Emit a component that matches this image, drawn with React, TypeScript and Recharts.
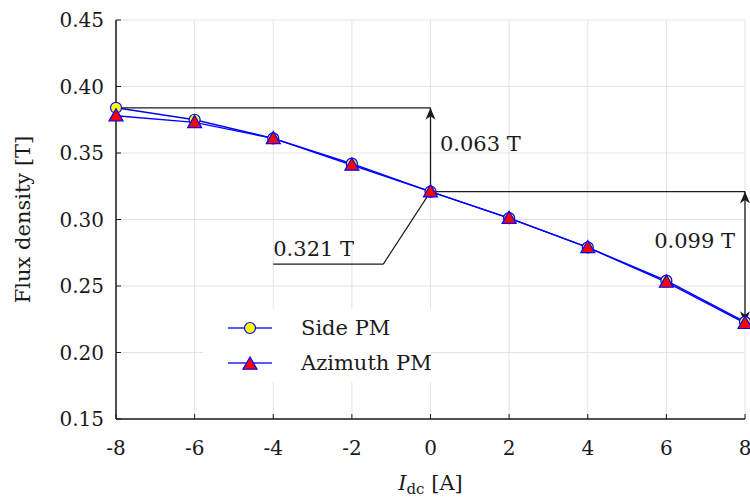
import React from "react";
import {
  LineChart,
  Line,
  XAxis,
  YAxis,
  CartesianGrid,
  ReferenceLine,
  ReferenceDot,
} from "recharts";

const current = [-8, -6, -4, -2, 0, 2, 4, 6, 8];
const sidePM = [0.384, 0.375, 0.361, 0.342, 0.321, 0.301, 0.279, 0.254, 0.223];
const azimuthPM = [0.378, 0.373, 0.361, 0.341, 0.321, 0.301, 0.279, 0.253, 0.222];
const xTicks = [-8, -6, -4, -2, 0, 2, 4, 6, 8];
const yTicks = [0.15, 0.2, 0.25, 0.3, 0.35, 0.4, 0.45];

const data = current.map((x, i) => ({ x, side: sidePM[i], azimuth: azimuthPM[i] }));

const FONT = "DejaVu Serif, serif";
const FS = 20;
const FS_NOTE = 21;
const BLUE = "#0000ff";
const INK = "#1a1a1a";

function XTick(props: any) {
  const { x, y, payload } = props;
  return (
    <g>
      <line x1={x} y1={y} x2={x} y2={y - 5} stroke={INK} strokeWidth={1} />
      <text x={x} y={y + 36} textAnchor="middle" fontFamily={FONT} fontSize={FS} fill={INK}>
        {payload.value}
      </text>
    </g>
  );
}

function YTick(props: any) {
  const { x, y, payload } = props;
  return (
    <g>
      <line x1={x} y1={y} x2={x + 5} y2={y} stroke={INK} strokeWidth={1} />
      <text x={x - 12} y={y} dy="0.35em" textAnchor="end" fontFamily={FONT} fontSize={FS} fill={INK}>
        {Number(payload.value).toFixed(2)}
      </text>
    </g>
  );
}

function CircleDot(props: any) {
  const { cx, cy } = props;
  return <circle cx={cx} cy={cy} r={5.5} fill="#ffff00" stroke={BLUE} strokeWidth={1.2} />;
}

function TriangleDot(props: any) {
  const { cx, cy } = props;
  const s = 7;
  return (
    <polygon
      points={`${cx},${cy - s} ${cx - s},${cy + s * 0.75} ${cx + s},${cy + s * 0.75}`}
      fill="#ff0000"
      stroke={BLUE}
      strokeWidth={1.2}
    />
  );
}

function head(x1: number, y1: number, x2: number, y2: number) {
  const a = Math.atan2(y2 - y1, x2 - x1);
  const L = 12;
  const W = 5;
  const bx = x2 - L * Math.cos(a);
  const by = y2 - L * Math.sin(a);
  const px = -Math.sin(a) * W;
  const py = Math.cos(a) * W;
  const mx = x2 - L * 0.7 * Math.cos(a);
  const my = y2 - L * 0.7 * Math.sin(a);
  return `M${x2},${y2} L${bx + px},${by + py} L${mx},${my} L${bx - px},${by - py} Z`;
}

function arrowShape(both: boolean) {
  return (props: any) => {
    const { x1, y1, x2, y2 } = props;
    return (
      <g>
        <line x1={x1} y1={y1} x2={x2} y2={y2} stroke={INK} strokeWidth={1.3} />
        <path d={head(x1, y1, x2, y2)} fill={INK} />
        {both && <path d={head(x2, y2, x1, y1)} fill={INK} />}
      </g>
    );
  };
}

function textShape(label: string, anchor: "start" | "middle" | "end", dy: string) {
  return (props: any) => (
    <text x={props.cx} y={props.cy} dy={dy} textAnchor={anchor} fontFamily={FONT} fontSize={FS_NOTE} fill={INK}>
      {label}
    </text>
  );
}

function LegendBox() {
  const row = (label: string, marker: React.ReactNode) => (
    <div style={{ display: "flex", alignItems: "center", height: 35, whiteSpace: "nowrap" }}>
      <svg width={72} height={20} style={{ display: "block", flexShrink: 0 }}>
        <line x1={25} y1={10} x2={69} y2={10} stroke="#5a5aff" strokeWidth={1.8} />
        {marker}
      </svg>
      <span
        style={{
          fontFamily: FONT,
          fontSize: FS_NOTE,
          color: INK,
          marginLeft: 26,
          lineHeight: "20px",
          whiteSpace: "nowrap",
        }}
      >
        {label}
      </span>
    </div>
  );
  return (
    <div
      style={{
        position: "absolute",
        left: 203,
        top: 309,
        width: 228,
        height: 72,
        background: "#fff",
        paddingTop: 1,
        overflow: "visible",
      }}
    >
      {row("Side PM", <CircleDot cx={47} cy={10} />)}
      {row("Azimuth PM", <TriangleDot cx={47} cy={11} />)}
    </div>
  );
}

export default function App() {
  return (
    <div style={{ position: "absolute", left: 0, top: 0, width: 750, height: 497, background: "#fff" }}>
      <LineChart width={750} height={497} data={data} margin={{ top: 20, right: 5, bottom: 28, left: 0 }}>
        <CartesianGrid stroke="#e3e3e3" strokeWidth={1} />
        <XAxis
          dataKey="x"
          type="number"
          domain={[-8, 8]}
          ticks={xTicks}
          tick={<XTick />}
          tickSize={0}
          tickMargin={0}
          tickLine={false}
          height={50}
          axisLine={{ stroke: INK, strokeWidth: 1.5 }}
          label={(p: any) => {
            const vb = p.viewBox;
            const cx = vb.x + vb.width / 2;
            return (
              <text x={cx} y={490} textAnchor="middle" fontFamily={FONT} fontSize={FS_NOTE} fill={INK}>
                <tspan fontStyle="italic">I</tspan>
                <tspan fontSize={15} dy={4}>dc</tspan>
                <tspan dy={-4}> [A]</tspan>
              </text>
            );
          }}
        />
        <YAxis
          type="number"
          domain={[0.15, 0.45]}
          ticks={yTicks}
          tick={<YTick />}
          tickSize={0}
          tickMargin={0}
          tickLine={false}
          width={116}
          axisLine={{ stroke: INK, strokeWidth: 1.5 }}
          label={(p: any) => {
            const vb = p.viewBox;
            const cy = vb.y + vb.height / 2;
            return (
              <text
                x={23}
                y={cy}
                transform={`rotate(-90, 23, ${cy})`}
                dy="0.35em"
                textAnchor="middle"
                fontFamily={FONT}
                fontSize={FS_NOTE}
                fill={INK}
              >
                Flux density [T]
              </text>
            );
          }}
        />
        <Line
          dataKey="side"
          stroke={BLUE}
          strokeWidth={1.4}
          dot={<CircleDot />}
          isAnimationActive={false}
        />
        <Line
          dataKey="azimuth"
          stroke={BLUE}
          strokeWidth={1.4}
          dot={<TriangleDot />}
          isAnimationActive={false}
        />
        <ReferenceLine segment={[{ x: -8, y: 0.384 }, { x: 0, y: 0.384 }]} stroke={INK} strokeWidth={1.3} />
        <ReferenceLine segment={[{ x: 0, y: 0.321 }, { x: 0, y: 0.384 }]} shape={arrowShape(false)} />
        <ReferenceLine segment={[{ x: 0, y: 0.321 }, { x: 8, y: 0.321 }]} stroke={INK} strokeWidth={1.3} />
        <ReferenceLine segment={[{ x: 8, y: 0.321 }, { x: 8, y: 0.222 }]} shape={arrowShape(true)} />
        <ReferenceLine segment={[{ x: -4, y: 0.2665 }, { x: -1.2, y: 0.2665 }]} stroke={INK} strokeWidth={1.2} />
        <ReferenceLine segment={[{ x: -1.2, y: 0.2665 }, { x: 0, y: 0.321 }]} stroke={INK} strokeWidth={1.2} />
        <ReferenceDot x={0.24} y={0.357} r={0} shape={textShape("0.063 T", "start", "0.35em")} />
        <ReferenceDot x={5.69} y={0.284} r={0} shape={textShape("0.099 T", "start", "0.35em")} />
        <ReferenceDot x={-4} y={0.2725} r={0} shape={textShape("0.321 T", "start", "0")} />
      </LineChart>
      <LegendBox />
    </div>
  );
}
